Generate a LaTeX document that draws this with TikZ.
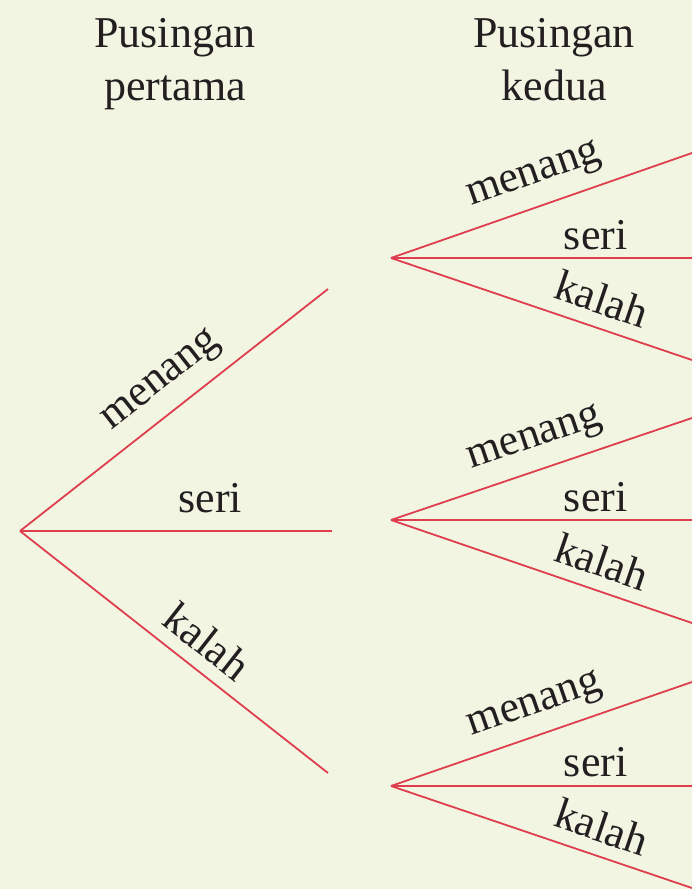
\documentclass[tikz,border=0pt]{standalone}
\usepackage{fontspec}
\setmainfont{Liberation Serif}
\usetikzlibrary{positioning}

\definecolor{paper}{HTML}{F3F5E3}
\definecolor{branchred}{HTML}{DE3E4E}
\definecolor{ink}{HTML}{231F20}

\tikzset{
  branch/.style={branchred, line width=1.8pt},
  lbl/.style={sloped, anchor=south, text depth=0pt, inner xsep=0pt, text=ink, font=\fontsize{44}{53}\selectfont},
  heading/.style={align=center, anchor=north, inner sep=0pt, text=ink, font=\fontsize{44}{53}\selectfont}
}

\begin{document}
\begin{tikzpicture}[x=1pt, y=-1pt]
        \fill[paper] (0,0) rectangle (692,889);
        \useasboundingbox (0,0) rectangle (692,889);

        % Headings
        \node[heading] (h1) at (175,18) {Pusingan\\pertama};
        \node[heading] (h2) at (554,18) {Pusingan\\kedua};

        % Pusingan pertama
        \coordinate (r0) at (20,531);
        \coordinate (m0) at (328,289);
        \coordinate (s0) at (332,531);
        \coordinate (k0) at (328,773);
        \draw[branch] (r0) -- (m0) node[lbl, pos=0.52, inner ysep=22pt] (lm0) {menang};
        \draw[branch] (r0) -- (s0) node[lbl, pos=0.61, inner ysep=18pt] (ls0) {seri};
        \draw[branch] (r0) -- (k0) node[lbl, pos=0.55, inner ysep=13pt] (lk0) {kalah};

        % Pusingan kedua, after menang
        \coordinate (ra) at (391,258);
        \coordinate (ma) at (692,153);
        \coordinate (sa) at (692,258);
        \coordinate (ka) at (692,360);
        \draw[branch] (ra) -- (ma) node[lbl, pos=0.51, inner ysep=22pt] (lma) {menang};
        \draw[branch] (ra) -- (sa) node[lbl, pos=0.68, inner ysep=8pt] (lsa) {seri};
        \draw[branch] (ra) -- (ka) node[lbl, pos=0.67, inner ysep=13pt] (lka) {kalah};

        % Pusingan kedua, after seri
        \coordinate (rb) at (391,520);
        \coordinate (mb) at (692,418);
        \coordinate (sb) at (692,520);
        \coordinate (kb) at (692,623);
        \draw[branch] (rb) -- (mb) node[lbl, pos=0.51, inner ysep=22pt] (lmb) {menang};
        \draw[branch] (rb) -- (sb) node[lbl, pos=0.68, inner ysep=8pt] (lsb) {seri};
        \draw[branch] (rb) -- (kb) node[lbl, pos=0.67, inner ysep=13pt] (lkb) {kalah};

        % Pusingan kedua, after kalah
        \coordinate (rc) at (391,786);
        \coordinate (mc) at (692,682);
        \coordinate (sc) at (692,786);
        \coordinate (kc) at (692,888);
        \draw[branch] (rc) -- (mc) node[lbl, pos=0.51, inner ysep=20pt] (lmc) {menang};
        \draw[branch] (rc) -- (sc) node[lbl, pos=0.68, inner ysep=9pt] (lsc) {seri};
        \draw[branch] (rc) -- (kc) node[lbl, pos=0.67, inner ysep=13pt] (lkc) {kalah};
\end{tikzpicture}
\end{document}
